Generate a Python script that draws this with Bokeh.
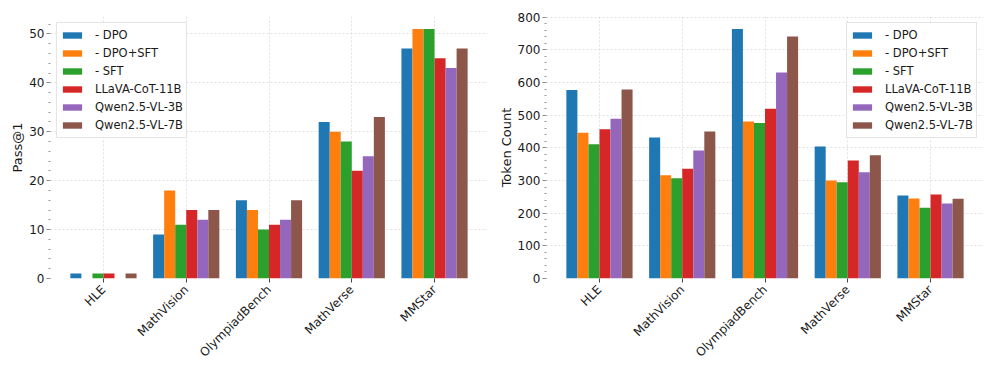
from math import pi
from bokeh.plotting import figure
from bokeh.layouts import row
from bokeh.models import FactorRange, Range1d, Legend, LegendItem, ColumnDataSource, SingleIntervalTicker
from bokeh.transform import dodge
from bokeh.embed import file_html
from bokeh.resources import INLINE

benchmarks = ["HLE", "MathVision", "OlympiadBench", "MathVerse", "MMStar"]
series_names = ["- DPO", "- DPO+SFT", "- SFT", "LLaVA-CoT-11B", "Qwen2.5-VL-3B", "Qwen2.5-VL-7B"]
colors = ["#1f77b4", "#ff7f0e", "#2ca02c", "#d62728", "#9467bd", "#8c564b"]

# Pass@1
pass_dpo = [1, 9, 16, 32, 47]
pass_dpo_sft = [0, 18, 14, 30, 51]
pass_sft = [1, 11, 10, 28, 51]
pass_llava = [1, 14, 11, 22, 45]
pass_qwen3b = [0, 12, 12, 25, 43]
pass_qwen7b = [1, 14, 16, 33, 47]

# Token Count
tok_dpo = [577, 432, 764, 404, 254]
tok_dpo_sft = [446, 316, 481, 300, 245]
tok_sft = [411, 307, 476, 295, 217]
tok_llava = [457, 336, 520, 361, 257]
tok_qwen3b = [489, 392, 631, 325, 230]
tok_qwen7b = [579, 450, 741, 377, 244]

FONT = "DejaVu Sans"
TXT = "#1a1a1a"


def panel(series, ylabel, interval, legend_loc, border_left, border_right):
    ymax = max(max(s) for s in series) * 1.05
    p = figure(x_range=FactorRange(*benchmarks, range_padding=0.14, range_padding_units="absolute"),
               y_range=Range1d(0, ymax),
               frame_width=437, frame_height=262,
               min_border_left=border_left, min_border_right=border_right,
               min_border_top=16, min_border_bottom=0,
               output_backend="svg", toolbar_location=None)
    p.outline_line_color = None
    p.background_fill_color = "white"
    p.border_fill_color = "white"

    n = len(series)
    w = 0.8 / n
    data = {"cat": benchmarks}
    for i, s in enumerate(series):
        data["s%d" % i] = s
    src = ColumnDataSource(data)
    items = []
    for i, s in enumerate(series):
        off = (i - (n - 1) / 2) * w
        r = p.vbar(x=dodge("cat", off, range=p.x_range), top="s%d" % i, width=w,
                   source=src, fill_color=colors[i], line_color=None)
        items.append(LegendItem(label=series_names[i], renderers=[r]))

    # grids
    for g in (p.xgrid, p.ygrid):
        g.grid_line_color = "#cfcfcf"
        g.grid_line_dash = "2 2"
        g.grid_line_width = 0.8
        g.grid_line_alpha = 0.8

    # y axis
    p.yaxis.ticker = SingleIntervalTicker(interval=interval, num_minor_ticks=5)
    p.yaxis.axis_line_color = None
    p.yaxis.major_tick_out = 4
    p.yaxis.major_tick_in = 0
    p.yaxis.major_tick_line_color = "#888888"
    p.yaxis.minor_tick_out = 2
    p.yaxis.minor_tick_in = 0
    p.yaxis.minor_tick_line_color = "#999999"
    p.yaxis.major_label_text_font = FONT
    p.yaxis.major_label_text_font_size = "12px"
    p.yaxis.major_label_text_color = TXT
    p.yaxis.major_label_standoff = 2
    p.yaxis.axis_label = ylabel
    p.yaxis.axis_label_text_font = FONT
    p.yaxis.axis_label_text_font_size = "13px"
    p.yaxis.axis_label_text_font_style = "normal"
    p.yaxis.axis_label_text_color = TXT
    p.yaxis.axis_label_standoff = 1

    # x axis
    p.xaxis.axis_line_color = None
    p.xaxis.major_tick_out = 4
    p.xaxis.major_tick_in = 0
    p.xaxis.major_tick_line_color = "#444444"
    p.xaxis.minor_tick_line_color = None
    p.xaxis.major_label_orientation = pi / 4
    p.xaxis.major_label_text_font = FONT
    p.xaxis.major_label_text_font_size = "12px"
    p.xaxis.major_label_text_color = TXT
    p.xaxis.major_label_standoff = 5

    leg = Legend(items=items, location=legend_loc)
    leg.label_text_font = FONT
    leg.label_text_font_size = "11.5px"
    leg.label_text_color = TXT
    leg.label_height = 18
    leg.glyph_height = 8
    leg.glyph_width = 24
    leg.label_standoff = 11
    leg.spacing = 0
    leg.padding = 3
    leg.margin = 6
    leg.border_line_color = "#cccccc"
    leg.border_line_width = 1
    leg.background_fill_alpha = 0.85
    p.add_layout(leg)
    return p


p1 = panel([pass_dpo, pass_dpo_sft, pass_sft, pass_llava, pass_qwen3b, pass_qwen7b],
           "Pass@1", 10, "top_left", 50, 7)
p2 = panel([tok_dpo, tok_dpo_sft, tok_sft, tok_llava, tok_qwen3b, tok_qwen7b],
           "Token Count", 100, "top_right", 52, 4)

layout = row(p1, p2)
open("out.html", "w").write(file_html(layout, INLINE))
